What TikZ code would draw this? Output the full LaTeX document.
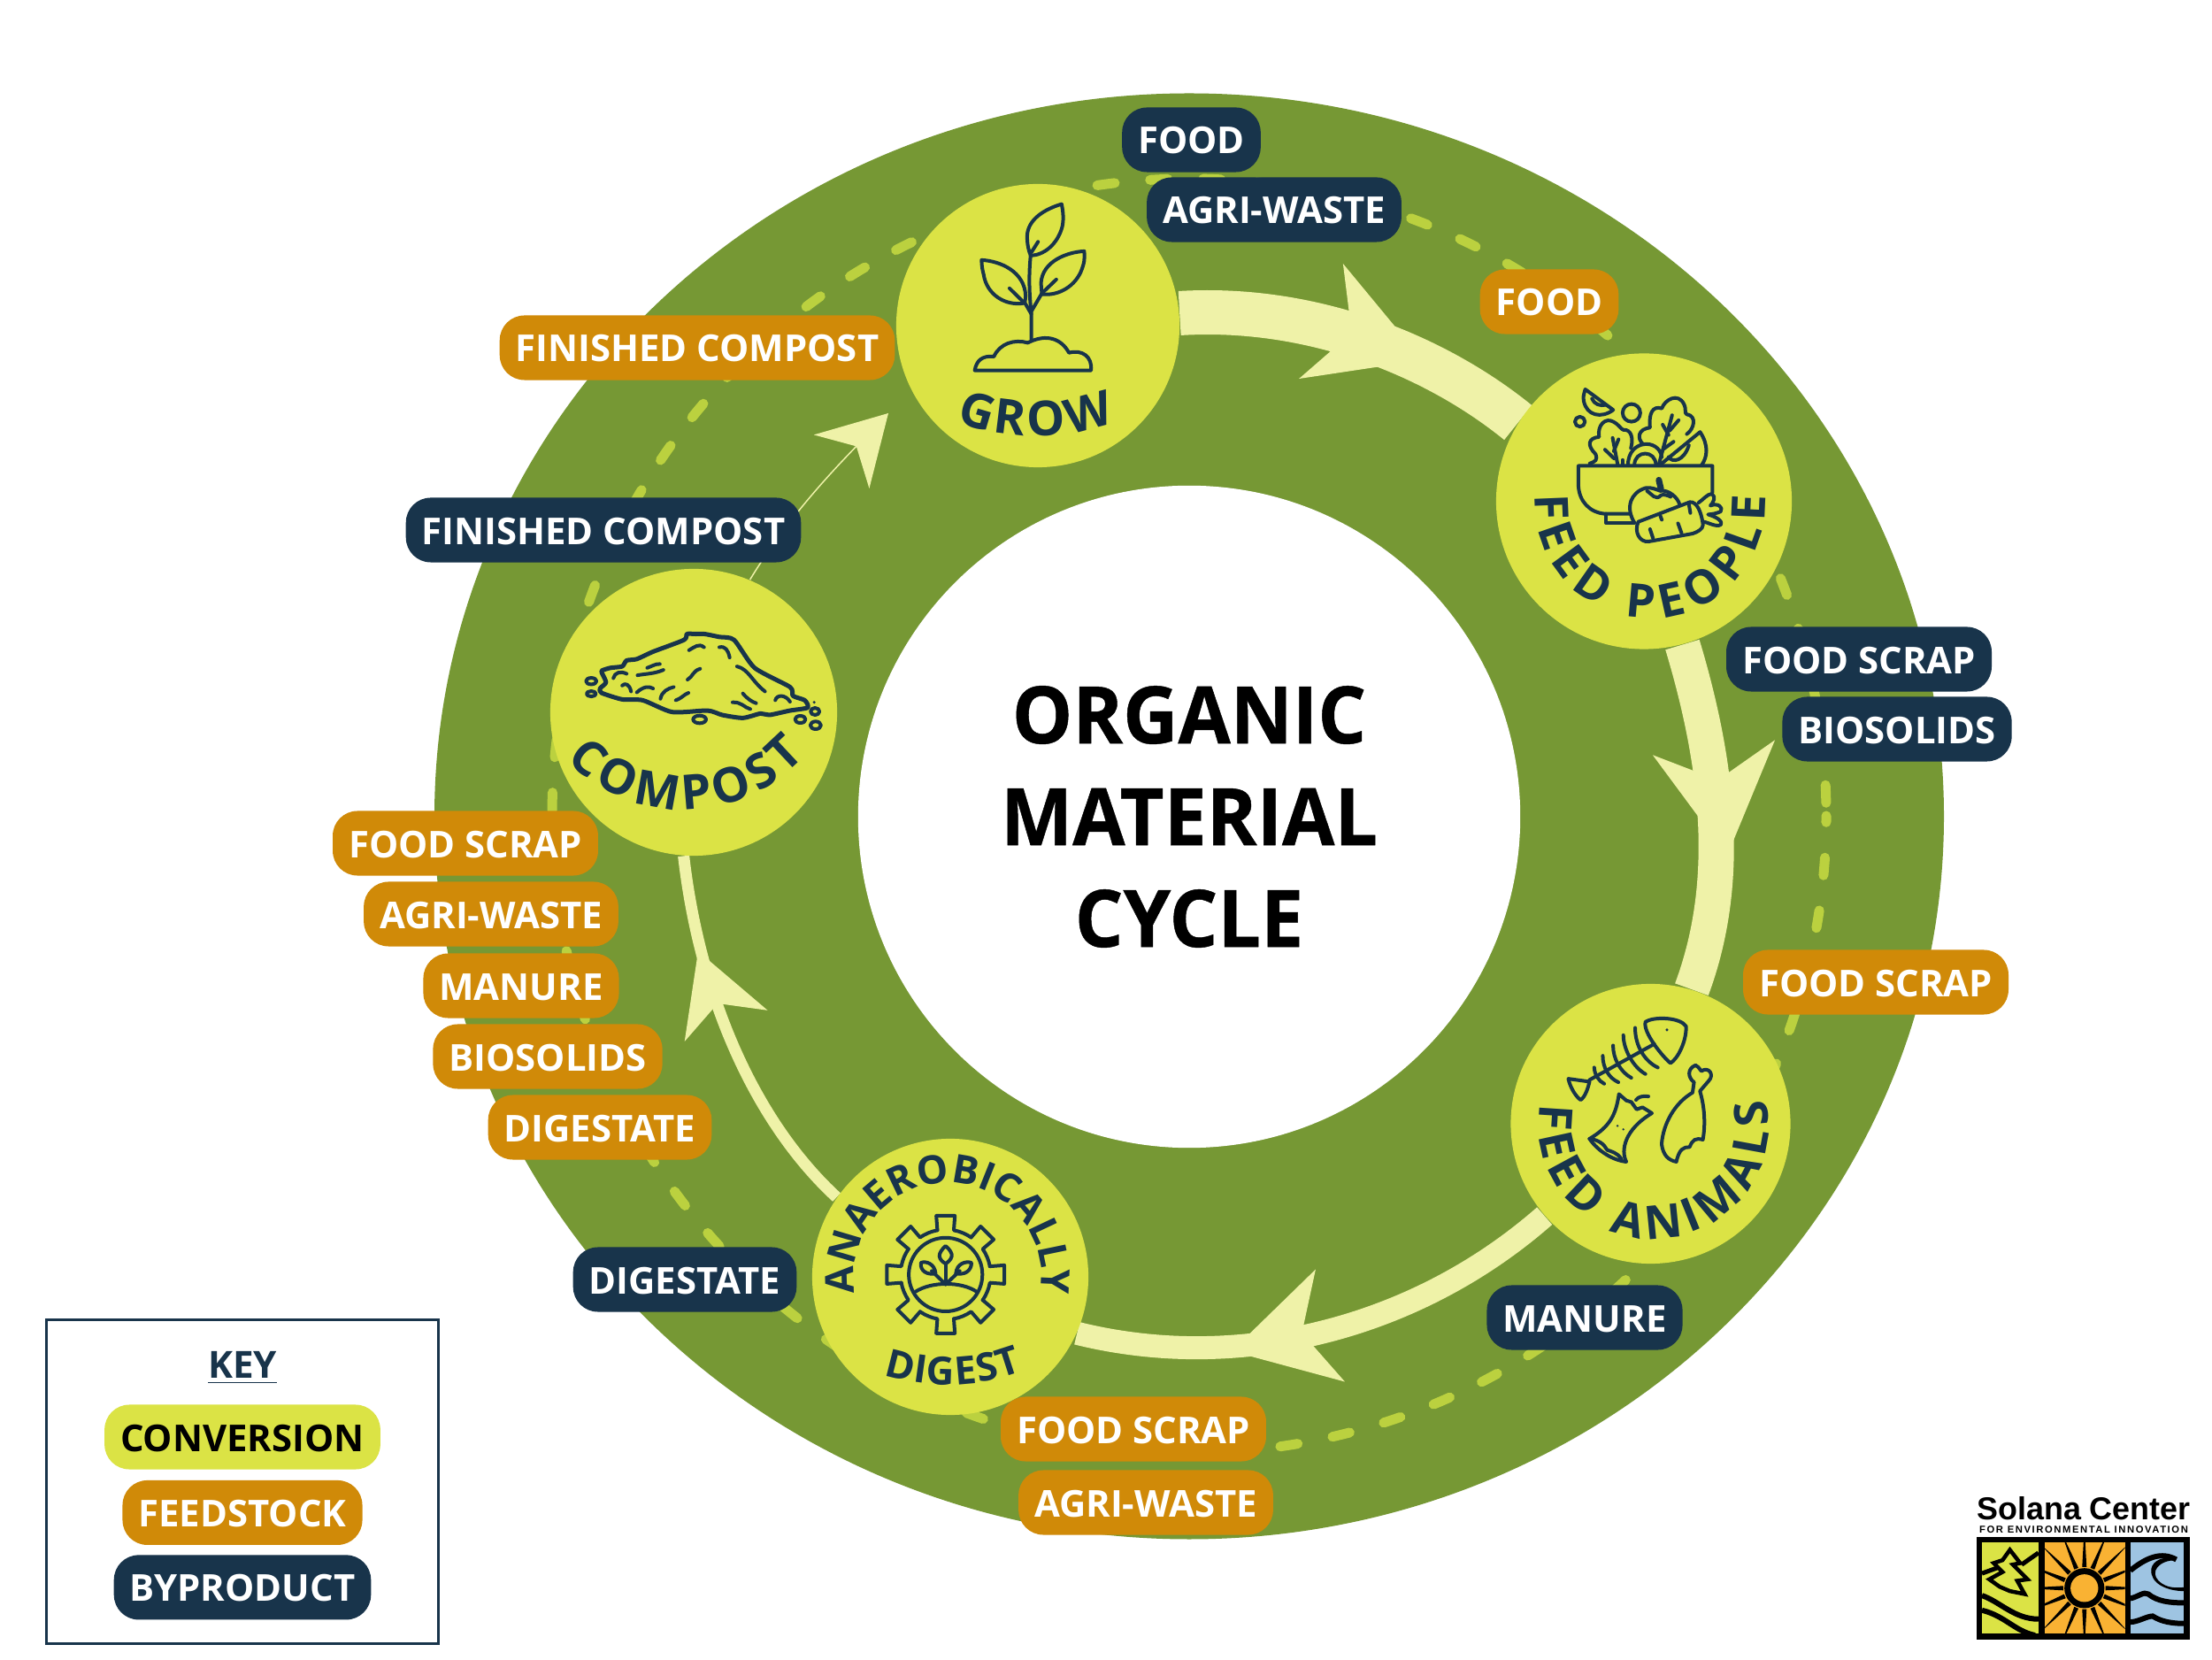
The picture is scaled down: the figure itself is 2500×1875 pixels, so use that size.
\documentclass[tikz,border=0pt]{standalone}
\usepackage{fontspec}
\setmainfont{Open Sans}
\newfontfamily\titlefont[UprightFont=* Bold,FakeStretch=0.96,FakeBold=0.5]{Open Sans}
\newfontfamily\logofont{Liberation Sans}
\newfontfamily\logotiny[LetterSpace=14]{Liberation Sans}
\usetikzlibrary{positioning,arrows.meta,backgrounds,decorations.text}
\definecolor{ringgreen}{HTML}{769834}
\definecolor{stoplime}{HTML}{DBE345}
\definecolor{flowlight}{HTML}{EFF2A8}
\definecolor{dashlime}{HTML}{BBD13F}
\definecolor{feedorange}{HTML}{D08A08}
\definecolor{bynavy}{HTML}{18344B}
\definecolor{logosun}{HTML}{F9B233}
\definecolor{logosea}{HTML}{9EC4E2}
\tikzset{
  stopnode/.style={circle,fill=stoplime,inner sep=0pt},
  pill/.style={rectangle,rounded corners=0.28cm,minimum height=0.73cm,inner xsep=0.18cm,inner ysep=0pt,
    text height=0.32cm,text depth=0pt,font=\fontsize{11.9}{12}\selectfont\bfseries},
  byproduct/.style={pill,fill=bynavy,text=white},
  feedstock/.style={pill,fill=feedorange,text=white},
  conversion/.style={pill,fill=stoplime,text=black},
  flowband/.style={draw=flowlight,line width=#1},
  flowhead/.style n args={3}{draw=flowlight,line width=0.015cm,-{Stealth[length=#1,width=#2,inset=#3,flowlight]}},
  cyclelabel/.style n args={2}{decorate,decoration={text along path,text align={fit to path},
    text={|\fontsize{#1}{#1}\selectfont\bfseries\color{bynavy}|#2}}},
  iconline/.style={draw=bynavy,line width=0.04cm,line cap=round,line join=round},
  traceat/.style 2 args={shift={(#1,#2)},x=0.003333cm,y=-0.003333cm},
}
\begin{document}
\begin{tikzpicture}[x=0.01cm,y=0.01cm]
\useasboundingbox (0,0) rectangle (2500,1875);
% stops on the cycle
\node (hub) [circle,fill=white,minimum size=7.48cm,inner sep=0pt,align=center,
  font=\titlefont\fontsize{25.5}{32.7}\selectfont] at (1344,952) {ORGANIC\\MATERIAL\\CYCLE};
\node (grow) [stopnode,minimum size=3.2cm] at (1173,1507) {};
\node (people) [stopnode,minimum size=3.34cm] at (1858,1308.5) {};
\node (animals) [stopnode,minimum size=3.16cm] at (1865.5,605) {};
\node (digest) [stopnode,minimum size=3.12cm] at (1074,432) {};
\node (compost) [stopnode,minimum size=3.24cm] at (784,1070) {};
% head stubs
\coordinate (growback) at (1493,1512);
\coordinate (growtip) at (1608,1468);
\coordinate (peopleback) at (1937,1030);
\coordinate (peopletip) at (1952,908);
\coordinate (animalsback) at (1503.5,377);
\coordinate (animalstip) at (1392,348);
\coordinate (digestback) at (820.5,716);
\coordinate (digesttip) at (789,800);
\coordinate (composttip) at (1004,1408);
\begin{scope}[on background layer]
\fill[white] (0,0) rectangle (2500,1875);
\fill[ringgreen] (1344,952.5) ellipse [x radius=853,y radius=817];
\draw[dashlime,line width=0.11cm,line cap=round,dash pattern=on 0.2cm off 0.4cm,dash phase=0.453cm] (1344,953) circle [radius=720];
\draw[flowband=0.5cm] (grow.5) .. controls (1480,1530) and (1620,1475) .. (people.148);
\draw[flowhead={1.23cm}{1.39cm}{0.37cm}] (growback) -- (growtip);
\draw[flowband=0.4cm] (people.-75) .. controls (1944,1005) and (1956,875) .. (animals.73);
\draw[flowhead={1.23cm}{1.39cm}{0.37cm}] (peopleback) -- (peopletip);
\draw[flowband=0.26cm] (animals.221) .. controls (1600,373) and (1400,323) .. (digest.-24);
\draw[flowhead={1.15cm}{1.31cm}{0.33cm}] (animalsback) -- (animalstip);
\draw[flowband=0.13cm] (digest.145) .. controls (850,610) and (790,755) .. (compost.266);
\draw[flowhead={0.9cm}{1cm}{0.27cm}] (digestback) -- (digesttip);
\draw[flowhead={0.76cm}{0.87cm}{0.24cm}] (compost.67) .. controls (890,1290) and (945,1347) .. (composttip);
\end{scope}
% curved lettering
\path[cyclelabel={15.5pt}{GROW}] (1170,1632) ++(249:250) arc [start angle=249,end angle=291,radius=250];
\path[cyclelabel={15pt}{FEED PEOPLE}] (1865,1306) ++(176:130) arc [start angle=176,end angle=364,radius=130];
\path[cyclelabel={15pt}{FEED ANIMALS}] (1869,605) ++(170:130) arc [start angle=170,end angle=372,radius=130];
\path[cyclelabel={15.5pt}{COMPOST}] (773,1145) ++(224:185) arc [start angle=224,end angle=318,radius=185];
\path[cyclelabel={12.7pt}{ANAEROBICALLY}] (1071,432) ++(190:106) arc [start angle=190,end angle=-10,radius=106];
\path[cyclelabel={12.5pt}{DIGEST}] (1071,545) ++(252:235) arc [start angle=252,end angle=291,radius=235];
% feedstock and byproduct labels
\node (foodtop) [byproduct] at (1346.5,1717) {FOOD};
\node (agritop) [byproduct] at (1440,1638) {AGRI-WASTE};
\node (foodgrow) [feedstock] at (1751,1534) {FOOD};
\node (finishedfeed) [feedstock] at (788,1482) {FINISHED COMPOST};
\node (finishedby) [byproduct] at (682,1276) {FINISHED COMPOST};
\node (scrapby) [byproduct] at (2101,1130) {FOOD SCRAP};
\node (biosolidsby) [byproduct] at (2144,1051) {BIOSOLIDS};
\node (scrapanimals) [feedstock] at (2120,765) {FOOD SCRAP};
\node (manureby) [byproduct] at (1791,386) {MANURE};
\node (scrapdigest) [feedstock] at (1281,260) {FOOD SCRAP};
\node (agridigest) [feedstock] at (1295,177) {AGRI-WASTE};
\node (digestateby) [byproduct] at (774,429) {DIGESTATE};
\node (digestatefeed) [feedstock] at (678,601) {DIGESTATE};
\node (biosolidsfeed) [feedstock] at (619,681) {BIOSOLIDS};
\node (manurefeed) [feedstock] at (589,761) {MANURE};
\node (agricompost) [feedstock] at (555,842) {AGRI-WASTE};
\node (scrapcompost) [feedstock] at (526,922) {FOOD SCRAP};
% key
\node (keybox) [draw=bynavy,line width=0.03cm,minimum width=4.42cm,minimum height=3.66cm] at (274,200.5) {};
\node (keytitle) [text=bynavy,font=\fontsize{12}{12}\selectfont\bfseries] at (274,329) {\underline{KEY}};
\node (keyconversion) [conversion] at (274,251) {CONVERSION};
\node (keyfeedstock) [feedstock,below=0.11cm of keyconversion] {FEEDSTOCK};
\node (keybyproduct) [byproduct,below=0.1cm of keyfeedstock] {BYPRODUCT};
% grow icon
\begin{scope}[traceat={1080}{1655}]
\draw[iconline] (360,32) .. controls (300,50) and (245,85) .. (243,140) .. controls (243,170) and (248,190) .. (255,207) .. controls (300,205) and (345,170) .. (362,110) .. controls (368,85) and (365,55) .. cycle;
\draw[iconline] (280,160) -- (258,195);
\draw[iconline] (255,205) .. controls (248,270) and (250,340) .. (257,400) -- (257,490);
\draw[iconline] (88,222) .. controls (150,225) and (235,260) .. (238,345) -- (235,368) .. controls (170,380) and (105,340) .. (95,270) .. controls (90,250) .. cycle;
\draw[iconline] (183,318) -- (238,372) -- (257,405);
\draw[iconline] (437,192) .. controls (380,195) and (295,225) .. (290,300) -- (293,338) .. controls (350,345) and (410,310) .. (430,250) .. controls (438,225) .. cycle;
\draw[iconline] (342,288) -- (293,335) -- (258,395);
\draw[iconline] (65,597) -- (460,597) .. controls (465,550) and (430,525) .. (385,537) .. controls (360,490) and (310,470) .. (245,503) .. controls (200,490) and (150,505) .. (130,550) .. controls (90,545) and (70,565) .. cycle;
\end{scope}
% feed people icon
\begin{scope}[traceat={1760}{1455}]
\draw[iconline] (95,60) -- (190,130) .. controls (150,160) and (100,150) .. (90,100) .. controls (88,85) .. cycle;
\draw[iconline] (118,92) .. controls (125,110) and (145,118) .. (165,113);
\draw[iconline] (252,140) circle [radius=30];
\draw[iconline] (77,170) circle [radius=17];
\draw[iconline] (527,410) -- (527,320) -- (72,320) -- (72,390) .. controls (75,440) and (110,480) .. (165,483) -- (245,483);
\draw[iconline] (165,483) -- (165,513) -- (262,513);
\draw[iconline] (110,312) .. controls (130,305) and (138,300) .. (130,280) .. controls (100,250) and (105,225) .. (142,222) .. controls (135,180) and (165,155) .. (190,170) .. controls (210,180) and (215,195) .. (225,198) .. controls (250,195) and (260,225) .. (250,260);
\draw[iconline] (205,315) -- (188,225);
\draw[iconline] (208,230) -- (192,270);
\draw[iconline] (162,265) -- (193,295);
\draw[iconline] (222,300) -- (222,318);
\draw[iconline] (290,245) .. controls (270,225) and (275,195) .. (315,190) .. controls (310,140) and (325,115) .. (355,125) .. controls (365,95) and (410,70) .. (430,110) .. controls (440,130) and (430,140) .. (440,145) .. controls (475,150) and (465,195) .. (440,212);
\draw[iconline] (345,315) -- (390,148);
\draw[iconline] (358,180) -- (378,215);
\draw[iconline] (412,165) -- (382,200);
\draw[iconline] (395,238) -- (362,262);
\draw[iconline] (240,318) .. controls (240,230) and (345,225) .. (355,290);
\draw[iconline] (262,318) .. controls (262,265) and (335,265) .. (335,318);
\draw[iconline] (350,316) -- (485,205) .. controls (515,250) and (510,290) .. (490,318);
\draw[iconline] (378,290) .. controls (390,310) and (430,305) .. (447,250);
\draw[iconline] (262,513) .. controls (230,460) and (250,410) .. (300,395) .. controls (320,392) and (335,400) .. (350,405) .. controls (380,400) and (410,430) .. (415,450);
\draw[bynavy,line width=0.07cm,line cap=round] (345,368) -- (352,398);
\draw[iconline] (305,405) .. controls (320,415) and (335,440) .. (352,420) .. controls (360,415) and (375,420) .. (385,425);
\draw[iconline] (275,510) -- (450,443) .. controls (475,440) and (490,480) .. (495,520) .. controls (495,535) and (475,545) .. (460,550) -- (310,577) .. controls (280,580) and (260,545) .. cycle;
\draw[iconline] (315,535) -- (325,565);
\draw[iconline] (410,515) -- (422,548);
\draw[iconline] (350,490) -- (355,503);
\draw[iconline] (447,450) -- (452,480);
\draw[iconline] (480,445) .. controls (495,435) and (510,415) .. (525,415) .. controls (540,425) and (530,445) .. (520,455) .. controls (545,445) and (565,460) .. (555,475) .. controls (545,480) and (525,485) .. (512,485) .. controls (530,490) and (565,505) .. (555,520) .. controls (540,530) and (510,510) .. (495,510);
\end{scope}
% feed animals icon
\begin{scope}[traceat={1650}{795}]
\draw[iconline] (630,225) .. controls (660,205) and (750,210) .. (768,240) .. controls (770,290) and (740,350) .. (715,365) .. controls (690,345) and (620,260) .. cycle;
\fill[bynavy] (703,252) circle [radius=5];
\draw[iconline] (660,300) -- (440,422);
\draw[iconline] (440,428) -- (368,418) .. controls (375,450) and (395,480) .. (410,490) .. controls (425,480) and (435,450) .. cycle;
\draw[iconline] (456,380) .. controls (458,405) and (470,425) .. (490,435);
\draw[iconline] (485,340) .. controls (485,380) and (505,415) .. (538,430);
\draw[iconline] (520,305) .. controls (520,350) and (545,395) .. (582,415);
\draw[iconline] (555,270) .. controls (555,320) and (590,380) .. (630,402);
\draw[iconline] (595,245) .. controls (595,310) and (630,360) .. (672,380);
\draw[iconline] (540,470) .. controls (530,540) and (510,580) .. (440,622) .. controls (470,665) and (520,695) .. (565,700) .. controls (545,660) and (560,590) .. (652,535) -- (620,515) -- (600,522) -- (582,497) -- (565,492) -- cycle;
\draw[iconline] (440,622) .. controls (470,625) and (490,640) .. (500,660) .. controls (515,665) and (535,670) .. (548,690);
\draw[iconline] (598,490) .. controls (605,480) and (620,475) .. (640,478);
\fill[bynavy] (535,578) circle [radius=4] (555,590) circle [radius=4];
\draw[iconline] (795,430) .. controls (775,415) and (770,385) .. (800,372) .. controls (815,380) and (815,390) .. (820,392) .. controls (845,375) and (865,405) .. (845,425) -- (815,460) .. controls (830,510) and (835,570) .. (825,625) .. controls (800,618) and (790,625) .. (780,650) .. controls (760,650) and (745,655) .. (735,700) .. controls (710,695) and (690,680) .. (685,640) .. controls (690,570) and (730,500) .. (790,465) -- cycle;
\end{scope}
% anaerobic digest icon
\begin{scope}[traceat={880}{605}]
\draw[iconline] (567,512) circle [radius=125];
\begin{scope}[shift={(567,512)}]
\foreach \a in {0,45,...,315}
  \draw[iconline] (\a-10.5:153) -- (\a-9:202) -- (\a+9:202) -- (\a+10.5:153) arc [start angle=\a+10.5,end angle=\a+34.5,radius=153];
\end{scope}
\draw[iconline] (465,570) .. controls (520,535) and (620,535) .. (672,570);
\draw[iconline] (567,545) -- (567,475);
\draw[iconline] (567,415) .. controls (580,425) and (590,440) .. (588,450) .. controls (585,462) and (575,470) .. (567,475) .. controls (558,470) and (548,462) .. (546,450) .. controls (545,440) and (555,425) .. cycle;
\draw[iconline] (567,545) -- (520,500);
\draw[iconline] (483,472) .. controls (500,465) and (530,475) .. (533,508) .. controls (505,515) and (480,500) .. cycle;
\draw[iconline] (567,545) -- (615,500);
\draw[iconline] (655,472) .. controls (635,465) and (605,475) .. (602,508) .. controls (630,515) and (655,500) .. cycle;
\end{scope}
% compost icon
\begin{scope}[traceat={600}{1255}]
\draw[bynavy,line width=0.05cm,line join=round] plot [smooth cycle,tension=0.4] coordinates {(240,415) (270,405) (310,400) (325,380) (360,375) (415,350) (520,310) (530,290) (560,290) (590,290) (640,300) (690,310) (760,405) (880,470) (890,500) (930,515) (940,540) (880,550) (810,565) (780,560) (720,575) (650,565) (600,550) (480,555) (380,515) (310,512) (240,490) (235,475) (255,455) (245,430)};
\draw[iconline] (205,450) ellipse [x radius=18,y radius=11];
\draw[iconline] (205,493) ellipse [x radius=16,y radius=9];
\draw[iconline] (573,580) ellipse [x radius=22,y radius=13];
\draw[iconline] (915,580) ellipse [x radius=18,y radius=12];
\draw[iconline] (965,553) ellipse [x radius=15,y radius=12];
\draw[iconline] (967,600) ellipse [x radius=18,y radius=13];
\fill[bynavy] (962,522) circle [radius=5];
\draw[iconline] (280,440) .. controls (285,420) and (305,415) .. (325,425);
\draw[iconline] (340,485) .. controls (335,460) and (320,455) .. (310,465);
\draw[iconline] (362,430) .. controls (390,425) and (420,425) .. (450,412);
\draw[iconline] (395,405) .. controls (410,400) and (425,390) .. (438,392);
\draw[iconline] (360,488) .. controls (380,470) and (400,465) .. (415,475);
\draw[iconline] (440,510) .. controls (445,485) and (465,475) .. (485,470);
\draw[iconline] (492,515) .. controls (510,510) and (520,495) .. (535,490);
\draw[iconline] (532,445) .. controls (550,435) and (550,415) .. (575,408);
\draw[iconline] (537,345) .. controls (555,335) and (570,320) .. (588,335);
\draw[iconline] (640,335) .. controls (660,330) and (670,345) .. (675,370);
\draw[iconline] (700,400) .. controls (740,410) and (750,450) .. (795,485);
\draw[iconline] (720,492) .. controls (735,510) and (750,520) .. (765,525);
\draw[iconline] (685,522) .. controls (715,520) and (725,540) .. (745,545);
\draw[iconline] (830,515) .. controls (835,495) and (865,495) .. (880,520);
\end{scope}
% logo
\node (solana) [anchor=base,font=\logofont\fontsize{10.2}{10.2}\selectfont\bfseries,text=black,inner sep=0pt] at (2355,158) {Solana Center};
\node (solanasub) [anchor=base,font=\logotiny\fontsize{3.2}{3.2}\selectfont\bfseries,text=black,inner sep=0pt] at (2355,143) {FOR ENVIRONMENTAL INNOVATION};
\begin{scope}[traceat={2200}{205}]
\fill[black] (103,200) rectangle (826,550);
\fill[stoplime] (120,220) rectangle (312,530);
\fill[logosun] (333,220) rectangle (606,530);
\fill[logosea] (624,220) rectangle (806,530);
\begin{scope}
\clip (120,220) rectangle (312,530);
\draw[black,line width=0.05cm] (120,325) -- (175,305);
\draw[black,line width=0.05cm] (255,295) -- (312,255);
\draw[black,line width=0.06cm] (120,400) .. controls (180,420) and (230,480) .. (312,480);
\draw[black,line width=0.06cm] (120,450) .. controls (200,470) and (230,520) .. (300,535);
\draw[black,line width=0.045cm,line join=miter] (215,245) -- (250,290) -- (225,295) -- (275,345) -- (240,350) -- (265,395) -- (215,385) -- (180,370) -- (145,345) -- (190,320) -- (160,290) -- (190,280) -- cycle;
\end{scope}
\begin{scope}
\clip (333,220) rectangle (606,530);
\foreach \a in {0,22.5,...,337.5}
  \fill[black,shift={(468,375)}] (\a-6:72) -- (\a:210) -- (\a+6:72) -- cycle;
\fill[black] (468,375) circle [radius=68];
\fill[logosun] (468,375) circle [radius=47];
\end{scope}
\begin{scope}
\clip (624,220) rectangle (806,530);
\draw[black,line width=0.06cm] (624,315) .. controls (680,270) and (730,250) .. (780,278);
\fill[black] (780,280) .. controls (720,280) and (690,320) .. (720,350) .. controls (745,375) and (780,375) .. (806,372) -- (806,385) .. controls (750,385) and (690,360) .. (695,310) .. controls (700,280) and (740,262) .. cycle;
\draw[black,line width=0.06cm] (624,410) .. controls (650,405) and (670,385) .. (685,395) .. controls (715,420) and (760,425) .. (806,425);
\draw[black,line width=0.06cm] (624,490) .. controls (650,490) and (680,470) .. (700,470) .. controls (730,490) and (770,495) .. (806,495);
\end{scope}
\end{scope}
\end{tikzpicture}
\end{document}
